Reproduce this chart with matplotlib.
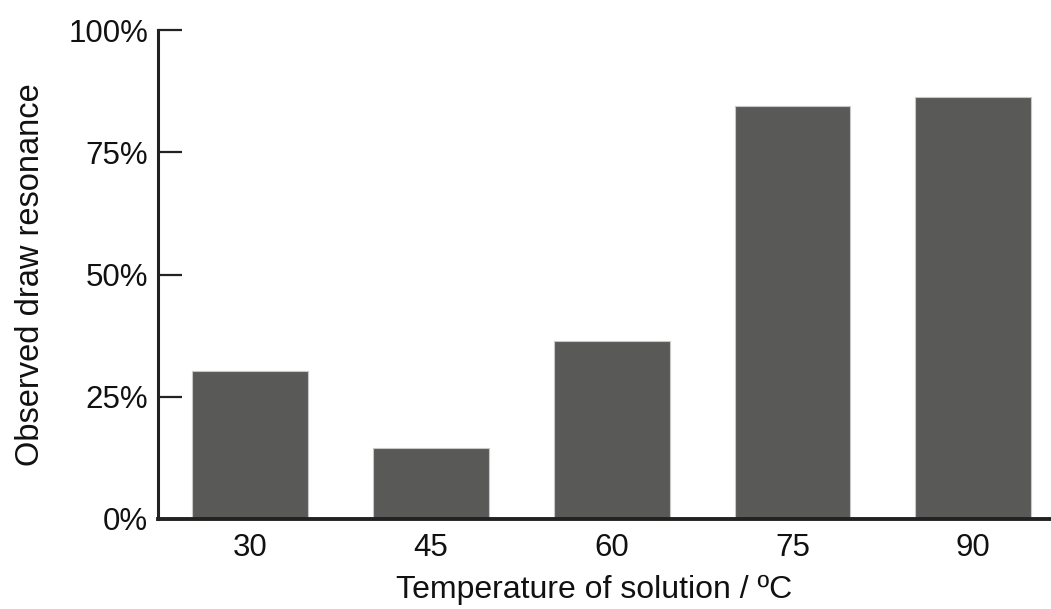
import matplotlib.pyplot as plt

# data
temps = ['30', '45', '60', '75', '90']
resonance = [30.3, 14.5, 36.3, 84.5, 86.3]  # percent
y_ticks = [0, 25, 50, 75, 100]
y_tick_labels = ['0%', '25%', '50%', '75%', '100%']

plt.rcParams['font.family'] = ['Liberation Sans', 'DejaVu Sans']

fig = plt.figure(figsize=(10.51, 6.09), dpi=100)
ax = fig.add_axes([0.1503, 0.1478, 0.8497, 0.8029])

x = range(len(temps))
ax.bar(x, resonance, width=0.64, color='#595957', edgecolor='#c8c8c8',
       linewidth=0.8, zorder=2)

ax.set_xlim(-0.51, 4.43)
ax.set_ylim(0, 100)
ax.set_xticks(list(x))
ax.set_xticklabels(temps, fontsize=22.5, color='#111111')
ax.set_yticks(y_ticks)
ax.set_yticklabels(y_tick_labels, fontsize=22.5, color='#111111')

ax.tick_params(axis='y', direction='in', length=17, width=1.6, color='#222222', pad=7)
ax.tick_params(axis='x', length=0, pad=10)

for side in ['top', 'right']:
    ax.spines[side].set_visible(False)
ax.spines['left'].set_linewidth(2.2)
ax.spines['left'].set_color('#222222')
ax.spines['bottom'].set_linewidth(2.8)
ax.spines['bottom'].set_color('#222222')

ax.set_xlabel('Temperature of solution / ºC', fontsize=23, color='#111111', labelpad=8)
ax.xaxis.set_label_coords(0.488, -0.115)
ax.set_ylabel('Observed draw resonance', fontsize=23.5, color='#111111', labelpad=16)

fig.savefig('out.png', dpi=100)
